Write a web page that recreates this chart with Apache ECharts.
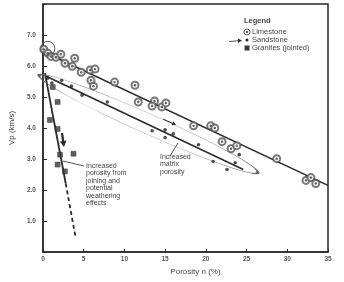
<!DOCTYPE html>
<html>
<head>
<meta charset="utf-8">
<script src="https://cdn.jsdelivr.net/npm/echarts@6/dist/echarts.min.js"></script>
<style>
  html, body { margin: 0; padding: 0; background: #fff; }
  #chart { width: 344px; height: 282px; }
</style>
</head>
<body>
<div id="chart"></div>
<script>
// values
var limestonePorosity = [0.1, 0.6, 1.0, 1.6, 2.2, 2.7, 3.6, 3.9, 4.7, 5.8, 6.4, 5.9, 6.2, 8.8, 11.3, 11.7, 13.7, 13.4, 14.6, 15.1, 18.5, 20.6, 21.1, 22.0, 23.1, 23.8, 28.7, 32.3, 32.9, 33.5];
var limestoneVp = [6.54, 6.41, 6.31, 6.28, 6.38, 6.09, 5.99, 6.25, 5.80, 5.87, 5.90, 5.54, 5.35, 5.48, 5.38, 4.84, 4.87, 4.71, 4.68, 4.81, 4.07, 4.07, 4.00, 3.56, 3.33, 3.43, 3.01, 2.31, 2.40, 2.21];

var sandstonePorosity = [0.6, 1.1, 2.3, 3.5, 4.8, 7.9, 13.4, 15.0, 15.0, 16.0, 19.1, 20.9, 23.6, 24.1, 22.6];
var sandstoneVp = [5.61, 5.45, 5.54, 5.35, 5.06, 4.84, 3.91, 3.94, 3.69, 3.81, 3.46, 2.92, 2.88, 3.14, 2.66];

var granitePorosity = [1.2, 1.8, 0.85, 1.8, 2.1, 3.75, 1.8, 2.7];
var graniteVp = [5.32, 4.84, 4.26, 3.97, 3.14, 3.17, 2.82, 2.60];

// hand drawn trend lines (end points)
var limestoneTrendX = [0, 35];
var limestoneTrendY = [6.47, 2.15];
var sandstoneTrendX = [0.4, 24.6];
var sandstoneTrendY = [5.67, 2.66];
var graniteTrendX = [0.24, 2.8];
var graniteTrendY = [5.77, 2.21];
var graniteExtX = [2.8, 4.0];
var graniteExtY = [2.21, 0.48];

// envelope round the sandstones: its two tips, and the circled start cluster
var envelopeTipsX = [-0.5, 26.4];
var envelopeTipsY = [5.7, 2.56];
var clusterX = 0.6;
var clusterY = 6.57;

var xTicks = ['0', '5', '10', '15', '20', '25', '30', '35'];
var yTicks = ['', '1.0', '2.0', '3.0', '4.0', '5.0', '6.0', '7.0', ''];

function zip(xs, ys) {
  return xs.map(function (x, i) { return [x, ys[i]]; });
}

var font = 'Liberation Sans';
var ink = '#2b2b2b';

var chart = echarts.init(document.getElementById('chart'));

var lineBase = {
  type: 'line',
  showSymbol: false,
  symbol: 'none',
  silent: true,
  z: 2
};

chart.setOption({
  animation: false,
  backgroundColor: '#fff',
  grid: {
    left: 40, right: 16, top: 4, bottom: 30,
    show: true, borderColor: ink, borderWidth: 1.5
  },
  xAxis: {
    type: 'value', min: 0, max: 35, interval: 5,
    name: 'Porosity n (%)', nameLocation: 'middle', nameGap: 15,
    nameTextStyle: { fontFamily: font, fontSize: 8, color: '#444', padding: [0, 0, 0, 20] },
    axisLine: { lineStyle: { color: ink, width: 1.5 } },
    axisTick: { inside: true, length: 3, lineStyle: { color: ink } },
    axisLabel: {
      margin: 4, fontFamily: font, fontSize: 6.5, fontWeight: 'bold', color: '#555',
      formatter: function (v) { return xTicks[Math.round(v / 5)]; }
    },
    splitLine: { show: false }
  },
  yAxis: {
    type: 'value', min: 0, max: 8, interval: 1,
    name: 'Vp (km/s)', nameLocation: 'middle', nameGap: 24, nameRotate: 90,
    nameTextStyle: { fontFamily: font, fontSize: 8, color: '#444' },
    axisLine: { show: true, lineStyle: { color: ink, width: 1.5 } },
    axisTick: { show: true, inside: true, length: 4, lineStyle: { color: ink } },
    axisLabel: {
      margin: 7, fontFamily: font, fontSize: 6.5, fontWeight: 'bold', color: '#555',
      formatter: function (v) { return yTicks[Math.round(v)]; }
    },
    splitLine: { show: false }
  },
  series: [
    Object.assign({}, lineBase, {
      name: 'Limestone trend', data: zip(limestoneTrendX, limestoneTrendY),
      lineStyle: { color: ink, width: 1.6 }
    }),
    Object.assign({}, lineBase, {
      name: 'Sandstone trend', data: zip(sandstoneTrendX, sandstoneTrendY),
      lineStyle: { color: ink, width: 1.6 }
    }),
    Object.assign({}, lineBase, {
      name: 'Granite trend', data: zip(graniteTrendX, graniteTrendY),
      lineStyle: { color: ink, width: 1.8 }
    }),
    Object.assign({}, lineBase, {
      name: 'Granite trend ext', data: zip(graniteExtX, graniteExtY),
      lineStyle: { color: ink, width: 1.8, type: [4, 3] }
    }),
    {
      name: 'Limestone', type: 'scatter', z: 3,
      data: zip(limestonePorosity, limestoneVp),
      symbol: 'emptyCircle', symbolSize: 7,
      itemStyle: { color: '#555', borderWidth: 1 }
    },
    {
      name: 'Limestone core', type: 'scatter', z: 4,
      data: zip(limestonePorosity, limestoneVp),
      symbol: 'circle', symbolSize: 2.4,
      itemStyle: { color: '#333' }
    },
    {
      name: 'Sandstone', type: 'scatter', z: 4,
      data: zip(sandstonePorosity, sandstoneVp),
      symbol: 'circle', symbolSize: 3.6,
      itemStyle: { color: '#222' }
    },
    {
      name: 'Granites (jointed)', type: 'scatter', z: 4,
      data: zip(granitePorosity, graniteVp),
      symbol: 'rect', symbolSize: 5,
      itemStyle: { color: '#3a3a3a', borderColor: '#222', borderWidth: 0.5 }
    }
  ]
});

// annotations: envelope, cluster circle, arrows, notes, legend
function px(x, y) {
  return chart.convertToPixel({ gridIndex: 0 }, [x, y]);
}

function arrow(x1, y1, x2, y2, w, head) {
  var a = Math.atan2(y2 - y1, x2 - x1);
  var hx = x2 - head * Math.cos(a), hy = y2 - head * Math.sin(a);
  var nx = -Math.sin(a) * head * 0.55, ny = Math.cos(a) * head * 0.55;
  return [
    { type: 'line', shape: { x1: x1, y1: y1, x2: hx, y2: hy }, style: { stroke: ink, lineWidth: w }, z: 10 },
    { type: 'polygon', shape: { points: [[x2, y2], [hx + nx, hy + ny], [hx - nx, hy - ny]] }, style: { fill: ink }, z: 10 }
  ];
}

function note(x, y, lines, size) {
  return lines.map(function (t, i) {
    return {
      type: 'text', x: x, y: y + i * 7.4, z: 10,
      style: { text: t, fontFamily: font, fontSize: size || 7, fill: '#444', textVerticalAlign: 'middle' }
    };
  });
}

var t1 = px(envelopeTipsX[0], envelopeTipsY[0]);
var t2 = px(envelopeTipsX[1], envelopeTipsY[1]);
var ang = Math.atan2(t2[1] - t1[1], t2[0] - t1[0]);
var half = Math.hypot(t2[0] - t1[0], t2[1] - t1[1]) / 2;
var c0 = px(clusterX, clusterY);

var graphic = [
  {
    type: 'circle', z: 9,
    x: (t1[0] + t2[0]) / 2, y: (t1[1] + t2[1]) / 2,
    rotation: -ang, scaleX: half, scaleY: 10,
    shape: { cx: 0, cy: 0, r: 1 },
    style: { fill: 'none', stroke: '#666', lineWidth: 1, strokeNoScale: true }
  },
  {
    type: 'circle', z: 9,
    shape: { cx: c0[0], cy: c0[1], r: 7 },
    style: { fill: 'none', stroke: '#555', lineWidth: 1 }
  },
  // pointer lines of the notes
  { type: 'line', z: 10, shape: { x1: 63, y1: 161, x2: 84, y2: 166 }, style: { stroke: '#555', lineWidth: 1 } },
  { type: 'line', z: 10, shape: { x1: 178, y1: 143, x2: 170, y2: 156 }, style: { stroke: '#555', lineWidth: 1 } },
  // legend
  { type: 'text', x: 244, y: 21, z: 10, style: { text: 'Legend', fontFamily: font, fontSize: 7.5, fontWeight: 'bold', fill: '#444', textVerticalAlign: 'middle' } },
  { type: 'circle', z: 10, shape: { cx: 247, cy: 32, r: 3 }, style: { fill: '#fff', stroke: '#555', lineWidth: 1 } },
  { type: 'circle', z: 11, shape: { cx: 247, cy: 32, r: 1.1 }, style: { fill: '#333' } },
  { type: 'circle', z: 10, shape: { cx: 247, cy: 40, r: 1.5 }, style: { fill: '#222' } },
  { type: 'rect', z: 10, shape: { x: 244.5, y: 45.5, width: 5, height: 5 }, style: { fill: '#3a3a3a' } }
];
graphic = graphic
  .concat(note(252, 32, ['Limestone'], 7.5))
  .concat(note(252, 40, ['Sandstone'], 7.5))
  .concat(note(252, 48, ['Granites (jointed)'], 7.5))
  .concat(arrow(229, 41.5, 242, 40.5, 0.8, 4))
  .concat(arrow(163, 119, 176, 125, 1, 4))
  .concat(arrow(62, 133, 64, 147, 2.2, 6))
  .concat(note(86, 166, ['Increased', 'porosity from', 'joining and', 'potential', 'weathering', 'effects']))
  .concat(note(160, 157, ['Increased', 'matrix', 'porosity']));

chart.setOption({ graphic: graphic });
</script>
</body>
</html>
